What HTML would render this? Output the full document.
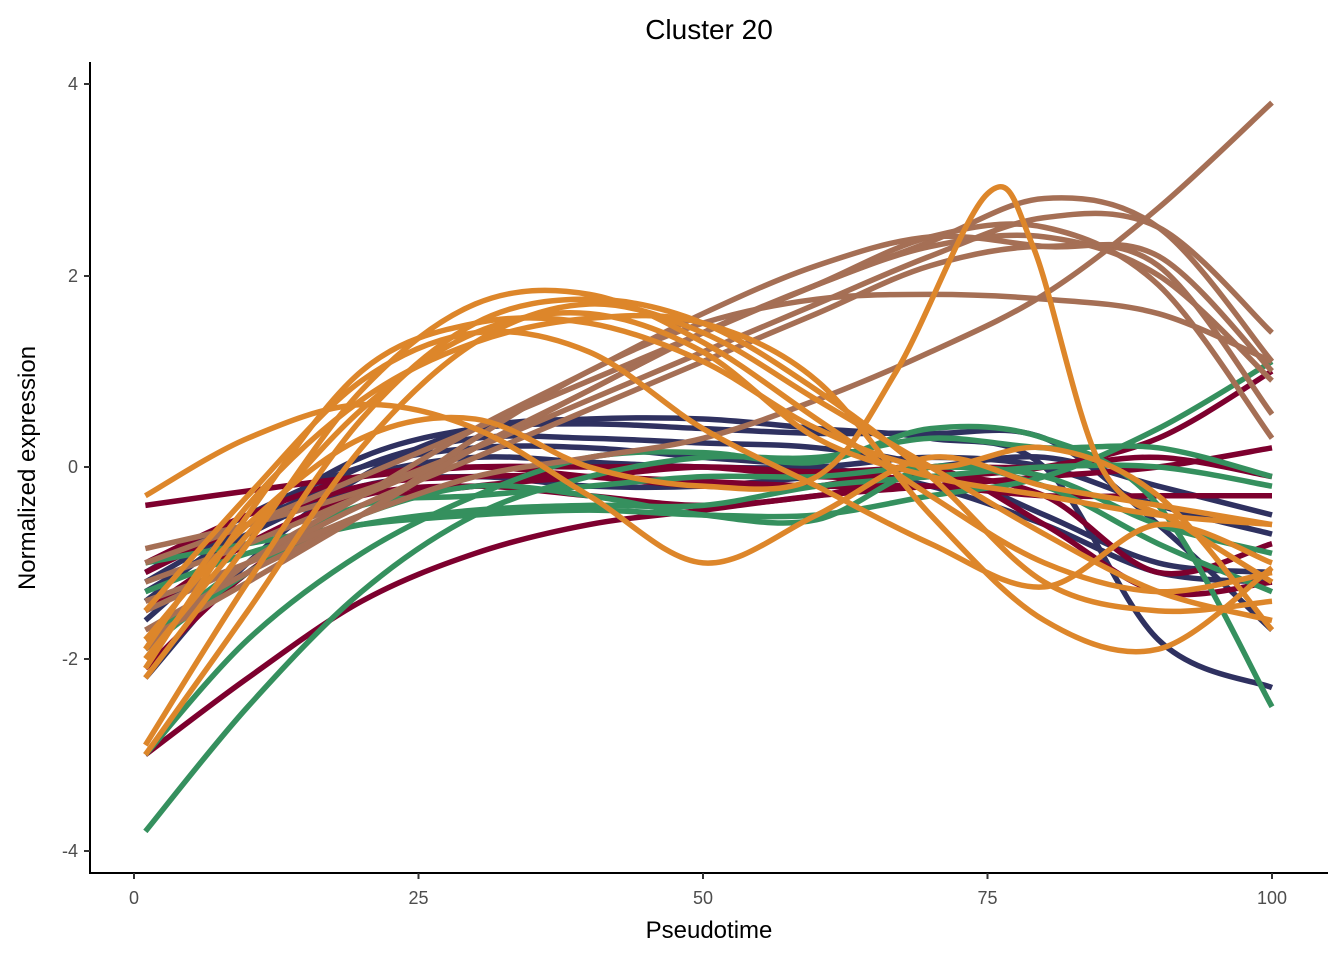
<!DOCTYPE html>
<html><head><meta charset="utf-8"><style>
html,body{margin:0;padding:0;background:#fff;}
svg{display:block;font-family:"Liberation Sans",sans-serif;}
</style></head><body>
<svg id="s" width="1344" height="960" viewBox="0 0 1344 960">
<rect width="1344" height="960" fill="#fff"/>
<g id="curves" fill="none" stroke-width="5.5" stroke-linecap="butt" stroke-linejoin="round"></g>
<line x1="90" y1="62" x2="90" y2="874" stroke="#000" stroke-width="2"/>
<line x1="89" y1="873" x2="1328" y2="873" stroke="#000" stroke-width="2"/>
<g stroke="#333" stroke-width="2">
<line x1="84" y1="84" x2="90" y2="84"/><line x1="84" y1="276" x2="90" y2="276"/>
<line x1="84" y1="467" x2="90" y2="467"/><line x1="84" y1="659" x2="90" y2="659"/>
<line x1="84" y1="851" x2="90" y2="851"/>
<line x1="134" y1="873" x2="134" y2="879"/><line x1="418.5" y1="873" x2="418.5" y2="879"/>
<line x1="703" y1="873" x2="703" y2="879"/><line x1="987.5" y1="873" x2="987.5" y2="879"/>
<line x1="1272" y1="873" x2="1272" y2="879"/>
</g>
<g font-size="18" fill="#4d4d4d" text-anchor="end">
<text x="78" y="90">4</text><text x="78" y="282">2</text><text x="78" y="473">0</text>
<text x="78" y="665">-2</text><text x="78" y="857">-4</text>
</g>
<g font-size="18" fill="#4d4d4d" text-anchor="middle">
<text x="134" y="904">0</text><text x="418.5" y="904">25</text><text x="703" y="904">50</text>
<text x="987.5" y="904">75</text><text x="1272" y="904">100</text>
</g>
<text x="709" y="938" font-size="24" text-anchor="middle">Pseudotime</text>
<text x="709" y="39" font-size="28" text-anchor="middle">Cluster 20</text>
<text transform="translate(35,468) rotate(-90)" font-size="24" text-anchor="middle">Normalized expression</text>
</svg>
<script>
var X=[1,10,20,30,40,50,60,70,80,90,100];
var C={o:"#DD862A",b:"#A56F55",n:"#2F3160",r:"#7D002E",g:"#35905E"};
var D=[
["n",[-2.2,-1.0,-0.1,0.4,0.5,0.5,0.4,0.3,0.0,-1.8,-2.3]],
["n",[-1.4,-0.6,0.1,0.4,0.45,0.4,0.35,0.35,0.3,-0.6,-1.7]],
["n",[-1.6,-0.7,0.0,0.3,0.3,0.25,0.2,0.0,-0.5,-1.0,-1.1]],
["n",[-1.1,-0.5,0.0,0.2,0.2,0.1,0.0,-0.2,-0.6,-1.1,-1.2]],
["n",[-1.2,-0.6,-0.1,0.1,0.05,0.0,0.0,0.1,0.0,-0.4,-0.7]],
["n",[-1.3,-0.7,-0.2,-0.1,-0.2,-0.2,-0.1,0.0,0.1,-0.2,-0.5]],
["r",[-0.4,-0.25,-0.1,0.0,0.0,0.0,-0.1,-0.1,0.0,0.3,1.0]],
["r",[-3.0,-2.2,-1.4,-0.9,-0.6,-0.45,-0.3,-0.2,-0.1,0.0,0.2]],
["r",[-1.0,-0.5,-0.1,0.0,-0.1,-0.2,-0.2,0.0,-0.6,-1.3,-1.2]],
["r",[-1.5,-0.8,-0.3,-0.2,-0.3,-0.4,-0.3,-0.1,-0.3,-1.1,-0.8]],
["r",[-1.1,-0.6,-0.2,-0.1,-0.1,-0.15,-0.2,-0.2,-0.3,-0.3,-0.3]],
["r",[-2.1,-1.1,-0.4,-0.2,-0.1,0.0,-0.05,0.0,0.0,0.1,-0.1]],
["g",[-3.8,-2.5,-1.3,-0.5,-0.1,0.1,0.1,0.3,0.2,0.2,-0.1]],
["g",[-3.0,-1.8,-0.9,-0.3,0.1,0.15,0.05,0.4,0.3,-0.4,-2.5]],
["g",[-1.0,-0.8,-0.6,-0.5,-0.45,-0.5,-0.5,-0.3,-0.1,0.4,1.1]],
["g",[-1.3,-0.9,-0.6,-0.45,-0.4,-0.4,-0.2,-0.1,0.0,0.0,-0.2]],
["g",[-1.8,-1.0,-0.4,-0.3,-0.2,-0.1,-0.1,0.0,-0.1,-0.6,-0.9]],
["g",[-1.9,-1.1,-0.5,-0.2,-0.3,-0.5,-0.55,0.0,-0.2,-0.8,-1.3]],
["b",[-0.85,-0.6,-0.25,0.2,0.7,1.2,1.7,2.2,2.6,2.5,1.4]],
["b",[-1.0,-0.6,-0.1,0.4,0.9,1.4,1.9,2.35,2.8,2.5,1.1]],
["b",[-1.2,-0.8,-0.3,0.2,0.8,1.4,1.9,2.3,2.4,2.0,0.9]],
["b",[-1.5,-1.0,-0.4,0.1,0.6,1.1,1.6,2.1,2.3,2.1,0.55]],
["b",[-1.7,-1.1,-0.5,0.3,1.0,1.5,1.75,1.8,1.75,1.6,1.1]],
["b",[-1.8,-1.2,-0.5,0.2,0.8,1.4,1.9,2.4,2.5,1.9,0.3]],
["b",[-1.4,-1.0,-0.5,-0.1,0.1,0.3,0.7,1.2,1.8,2.7,3.8]],
["b",[-1.9,-1.0,-0.3,0.4,1.0,1.6,2.1,2.4,2.3,2.2,1.0]],
["o",[-0.3,0.3,0.65,0.4,-0.3,-1.0,-0.5,0.1,-0.2,-0.4,-0.6]],
["o",[-3.0,-1.5,0.2,1.3,1.7,1.4,0.7,0.0,-0.7,-1.3,-1.6]],
["o",[-2.9,-1.2,0.5,1.5,1.75,1.5,0.8,-0.1,-1.2,-1.5,-1.4]],
["o",[-2.2,-0.8,0.8,1.7,1.8,1.3,0.5,-0.3,-1.0,-1.3,-1.1]],
["o",[-2.1,-0.5,1.0,1.5,1.5,1.1,0.4,0.0,0.2,-0.3,-1.7]],
["o",[-1.5,-0.3,0.9,1.4,1.2,0.4,-0.2,-0.8,-1.25,-0.6,-1.0]],
["o",[-1.8,-0.6,0.3,0.5,0.0,-0.2,-0.1,1.0,2.85,2.3,0.0,-0.6,-1.2],[1,10,20,30,40,50,60,67,75,79,85,92,100]],
["o",[-1.9,-0.4,0.7,1.3,1.55,1.5,0.9,-0.5,-1.6,-1.9,-1.05]],
["o",[-2.0,-0.7,0.6,1.4,1.6,1.2,0.3,-0.1,-0.3,-0.5,-0.6]]
];
function px(x){return 134+x*11.38;}
function py(y){return 467-y*95.9;}
var g=document.getElementById("curves"),ns="http://www.w3.org/2000/svg";
D.forEach(function(c){
  var xs=c[2]||X,ys=c[1],p=[];
  for(var i=0;i<xs.length;i++)p.push([px(xs[i]),py(ys[i])]);
  var d="M"+p[0][0]+","+p[0][1];
  for(var i=0;i<p.length-1;i++){
    var p0=p[i-1]||p[i],p1=p[i],p2=p[i+1],p3=p[i+2]||p2;
    var c1x=p1[0]+(p2[0]-p0[0])/6,c1y=p1[1]+(p2[1]-p0[1])/6;
    var c2x=p2[0]-(p3[0]-p1[0])/6,c2y=p2[1]-(p3[1]-p1[1])/6;
    d+=" C"+c1x+","+c1y+" "+c2x+","+c2y+" "+p2[0]+","+p2[1];
  }
  var e=document.createElementNS(ns,"path");
  e.setAttribute("d",d);e.setAttribute("stroke",C[c[0]]);
  g.appendChild(e);
});
</script>
</body></html>
